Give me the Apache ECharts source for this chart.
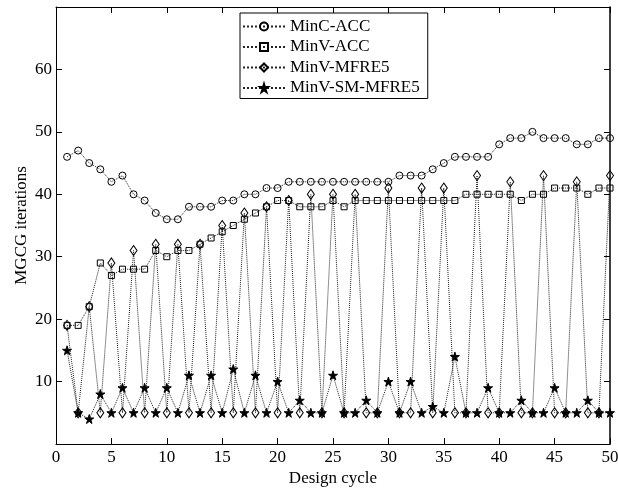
<!DOCTYPE html>
<html>
<head>
<meta charset="utf-8">
<script src="https://cdn.jsdelivr.net/npm/echarts@6/dist/echarts.min.js"></script>
<style>html,body{margin:0;padding:0;background:#fff}#c{width:618px;height:488px}</style>
</head>
<body>
<div id="c"></div>
<script>
var cycles = [];
for (var i = 1; i <= 50; i++) cycles.push(i);
var seriesNames = ['MinC-ACC', 'MinV-ACC', 'MinV-MFRE5', 'MinV-SM-MFRE5'];
var minCACC = [46,47,45,44,42,43,40,39,37,36,36,38,38,38,39,39,40,40,41,41,42,42,42,42,42,42,42,42,42,42,43,43,43,44,45,46,46,46,46,48,49,49,50,49,49,49,48,48,49,49];
var minVACC = [19,19,22,29,27,28,28,28,31,30,31,31,32,33,34,35,36,37,38,39,39,38,38,38,39,38,39,39,39,39,39,39,39,39,39,39,40,40,40,40,40,39,40,40,41,41,41,40,41,41];
var minVMFRE5 = [19,5,22,5,29,5,31,5,32,5,32,5,32,5,35,5,37,5,38,5,39,5,40,5,40,5,40,5,5,41,5,5,41,5,41,5,5,43,5,5,42,5,5,43,5,5,42,5,5,43];
var minVSMMFRE5 = [15,5,4,8,5,9,5,9,5,9,5,11,5,11,5,12,5,11,5,10,5,7,5,5,11,5,5,7,5,10,5,10,5,6,5,14,5,5,9,5,5,7,5,5,9,5,5,7,5,5];
var xTicks = {min: 0, max: 50, interval: 5};
var yTicks = {min: 0, max: 70, interval: 10};

var starPath = 'path://M50,0 L61,35 L98,35 L68,57 L79,91 L50,70 L21,91 L32,57 L2,35 L39,35 Z';
function pairs(arr){ return arr.map(function(v,i){ return [cycles[i], v]; }); }
var font = 'Liberation Serif, Times New Roman, serif';
function mk(name, data, symbol, size, filled){
  return {
    name: name, type: 'line', data: pairs(data),
    symbol: symbol, symbolSize: size, showSymbol: true,
    lineStyle: {color: '#222', width: 1, type: 'dotted'},
    itemStyle: {color: filled ? '#000' : 'rgba(255,255,255,0)', borderColor: '#000', borderWidth: 1},
    emphasis: {disabled: true}, animation: false
  };
}
var chart = echarts.init(document.getElementById('c'));
chart.setOption({
  animation: false,
  backgroundColor: '#fff',
  grid: {left: 56, right: 8, top: 7, bottom: 44, containLabel: false, outerBoundsMode: 'none'},
  legend: {
    orient: 'vertical', left: 240, top: 13,
    data: seriesNames,
    borderColor: '#000', borderWidth: 1, backgroundColor: '#fff',
    padding: [5, 8, 2, 2],
    itemWidth: 42, itemHeight: 10, itemGap: 3.5,
    textStyle: {fontFamily: font, fontSize: 17, color: '#000'},
    selectedMode: false
  },
  xAxis: [{
    type: 'value', min: xTicks.min, max: xTicks.max, interval: xTicks.interval,
    name: 'Design cycle', nameLocation: 'middle', nameGap: 26, nameMoveOverlap: false,
    nameTextStyle: {fontFamily: font, fontSize: 17, color: '#000'},
    axisLine: {onZero: false, lineStyle: {color: '#000', width: 1}},
    axisTick: {inside: true, length: 6, lineStyle: {color: '#000'}},
    axisLabel: {fontFamily: font, fontSize: 17, color: '#000', margin: 5},
    splitLine: {show: false}
  }, {
    type: 'value', position: 'top', min: xTicks.min, max: xTicks.max, interval: xTicks.interval,
    axisLine: {show: true, onZero: false, lineStyle: {color: '#000', width: 1}},
    axisTick: {inside: true, length: 6, lineStyle: {color: '#000'}},
    axisLabel: {show: false}, splitLine: {show: false}
  }],
  yAxis: [{
    type: 'value', min: yTicks.min, max: yTicks.max, interval: yTicks.interval,
    name: 'MGCG iterations', nameLocation: 'middle', nameGap: 26, nameMoveOverlap: false,
    nameTextStyle: {fontFamily: font, fontSize: 17, color: '#000'},
    axisLine: {show: true, onZero: false, lineStyle: {color: '#000', width: 1}},
    axisTick: {show: true, inside: true, length: 6, lineStyle: {color: '#000'}},
    axisLabel: {fontFamily: font, fontSize: 17, color: '#000', margin: 4, showMinLabel: false, showMaxLabel: false},
    splitLine: {show: false}
  }, {
    type: 'value', position: 'right', min: yTicks.min, max: yTicks.max, interval: yTicks.interval,
    axisLine: {show: true, onZero: false, lineStyle: {color: '#000', width: 1.5}},
    axisTick: {show: true, inside: true, length: 6, lineStyle: {color: '#000'}},
    axisLabel: {show: false}, splitLine: {show: false}
  }],
  series: [
    mk(seriesNames[0], minCACC, 'circle', 7, false),
    mk(seriesNames[1], minVACC, 'rect', 6, false),
    mk(seriesNames[2], minVMFRE5, 'diamond', [7, 10], false),
    mk(seriesNames[3], minVSMMFRE5, starPath, 9, true)
  ]
});
</script>
</body>
</html>
